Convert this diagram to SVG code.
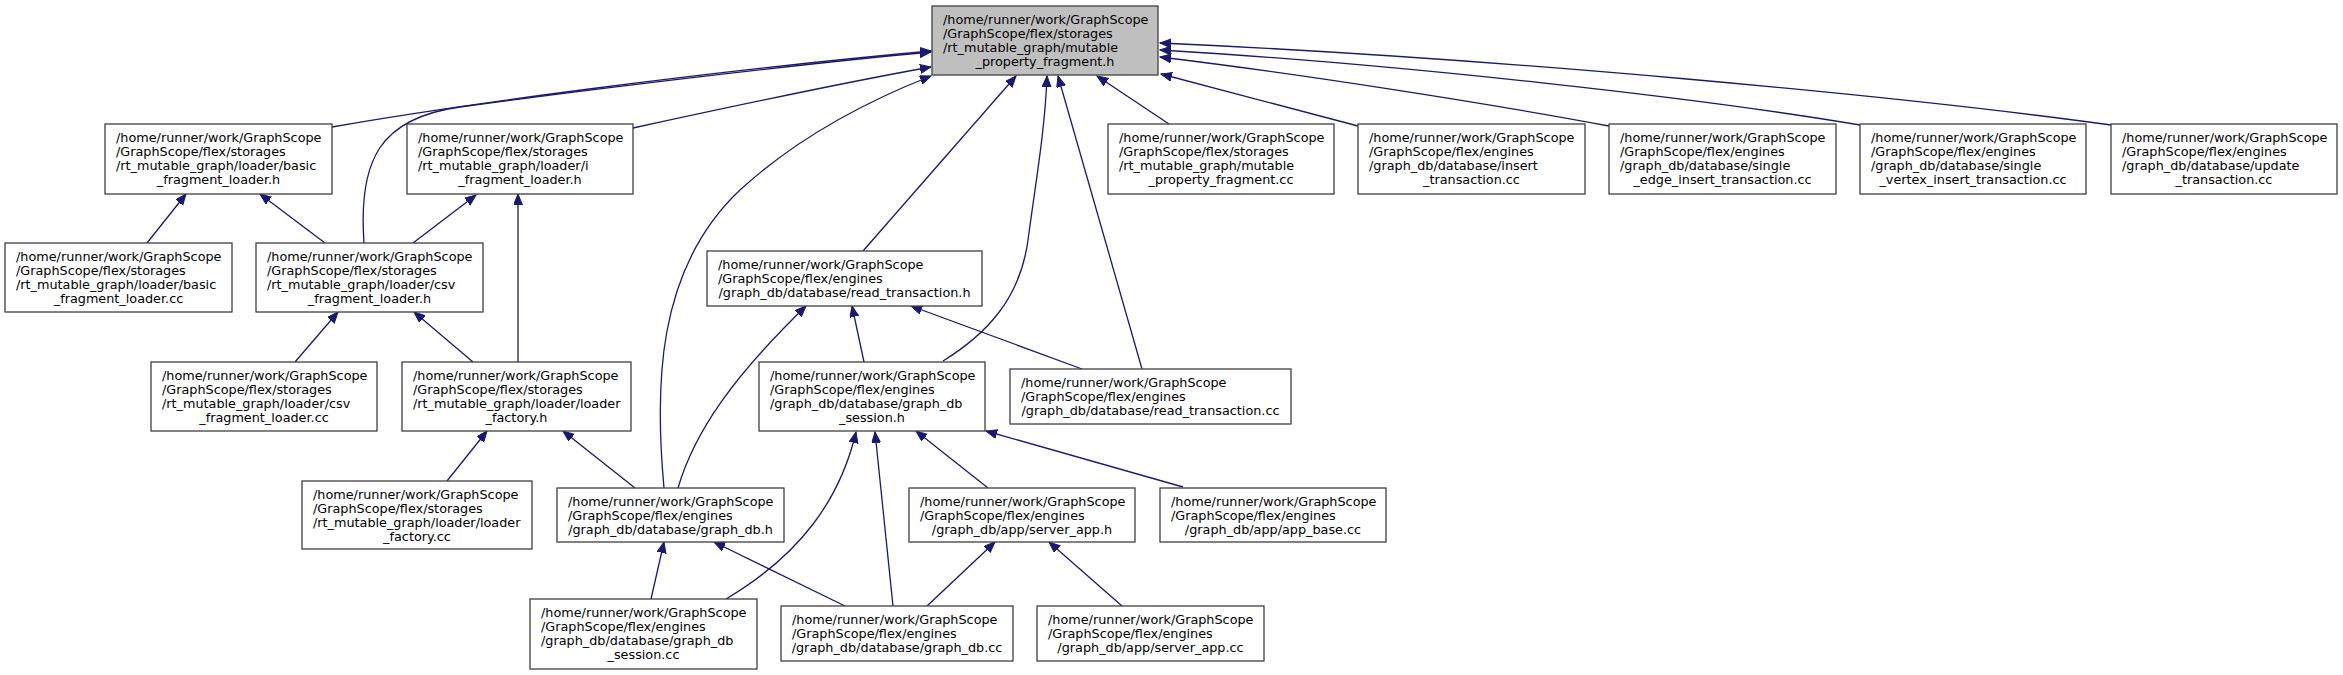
<svg xmlns="http://www.w3.org/2000/svg" width="2343" height="675" viewBox="0 0 2343 675">
<style>
.node rect{fill:#ffffff;stroke:#404040;stroke-width:1.3}
.root rect{fill:#bfbfbf}
text{font-family:"DejaVu Sans","Liberation Sans",sans-serif;font-size:12.8px;fill:#000000}
.c{text-anchor:middle}
.edges path{fill:none;stroke:#191970;stroke-width:1.3;marker-end:url(#ah)}
</style>
<defs>
<marker id="ah" markerWidth="12" markerHeight="10" refX="11" refY="4.5" orient="auto" markerUnits="userSpaceOnUse">
<path d="M0,0 L11,4.5 L0,9 z" fill="#191970" stroke="#191970" stroke-width="1"/>
</marker>
</defs>
<rect width="2343" height="675" fill="#ffffff"/>
<g class="edges">
<path d="M332,127 C450,106 700,72 931,51"/>
<path d="M364,243 C358,160 380,118 460,107 C600,88 800,64 931,52"/>
<path d="M633,128 C720,109 830,85 931,67"/>
<path d="M664,488 C655,390 655,270 740,190 C800,135 870,100 931,76"/>
<path d="M863,251 L1016,76"/>
<path d="M943,361 C985,335 1020,300 1028,240 C1036,180 1045,130 1047,76"/>
<path d="M1142,369 L1058,76"/>
<path d="M1169,124 L1097,76"/>
<path d="M1358,126 L1161,74"/>
<path d="M1609,126 C1480,102 1300,74 1160,57"/>
<path d="M1860,125 C1700,98 1400,64 1160,50"/>
<path d="M2111,125 C1900,96 1500,58 1160,43"/>
<path d="M147,243 L186,194"/>
<path d="M325,243 L260,194"/>
<path d="M413,243 L476,195"/>
<path d="M295,362 L338,312"/>
<path d="M473,362 L414,312"/>
<path d="M518,362 L518,194"/>
<path d="M447,481 L487,431"/>
<path d="M635,488 L563,431"/>
<path d="M678,488 C695,430 735,375 806,306"/>
<path d="M864,362 L852,306"/>
<path d="M1082,369 L911,306"/>
<path d="M651,599 L664,542"/>
<path d="M845,606 L714,542"/>
<path d="M726,599 C800,555 840,500 856,432"/>
<path d="M893,606 L875,432"/>
<path d="M927,606 L995,542"/>
<path d="M1122,606 L1049,542"/>
<path d="M988,488 L916,431"/>
<path d="M1183,487 L986,431"/>
</g>
<g id="node-top" class="node root">
<rect x="932" y="6" width="226" height="69"/>
<text x="943" y="23.5">/home/runner/work/GraphScope</text>
<text x="943" y="37.8">/GraphScope/flex/storages</text>
<text x="943" y="52.1">/rt_mutable_graph/mutable</text>
<text class="c" x="1045" y="66.4">_property_fragment.h</text>
</g>
<g id="node-basic-fragment-loader-h" class="node">
<rect x="105" y="124" width="227" height="70"/>
<text x="116" y="141.5">/home/runner/work/GraphScope</text>
<text x="116" y="155.8">/GraphScope/flex/storages</text>
<text x="116" y="170.1">/rt_mutable_graph/loader/basic</text>
<text class="c" x="218.5" y="184.4">_fragment_loader.h</text>
</g>
<g id="node-i-fragment-loader-h" class="node">
<rect x="407" y="124" width="226" height="70"/>
<text x="418" y="141.5">/home/runner/work/GraphScope</text>
<text x="418" y="155.8">/GraphScope/flex/storages</text>
<text x="418" y="170.1">/rt_mutable_graph/loader/i</text>
<text class="c" x="520" y="184.4">_fragment_loader.h</text>
</g>
<g id="node-mutable-property-fragment-cc" class="node">
<rect x="1108" y="124" width="226" height="70"/>
<text x="1119" y="141.5">/home/runner/work/GraphScope</text>
<text x="1119" y="155.8">/GraphScope/flex/storages</text>
<text x="1119" y="170.1">/rt_mutable_graph/mutable</text>
<text class="c" x="1221" y="184.4">_property_fragment.cc</text>
</g>
<g id="node-insert-transaction-cc" class="node">
<rect x="1358" y="124" width="227" height="70"/>
<text x="1369" y="141.5">/home/runner/work/GraphScope</text>
<text x="1369" y="155.8">/GraphScope/flex/engines</text>
<text x="1369" y="170.1">/graph_db/database/insert</text>
<text class="c" x="1471.5" y="184.4">_transaction.cc</text>
</g>
<g id="node-single-edge-insert-transaction-cc" class="node">
<rect x="1609" y="124" width="227" height="70"/>
<text x="1620" y="141.5">/home/runner/work/GraphScope</text>
<text x="1620" y="155.8">/GraphScope/flex/engines</text>
<text x="1620" y="170.1">/graph_db/database/single</text>
<text class="c" x="1722.5" y="184.4">_edge_insert_transaction.cc</text>
</g>
<g id="node-single-vertex-insert-transaction-cc" class="node">
<rect x="1860" y="124" width="226" height="70"/>
<text x="1871" y="141.5">/home/runner/work/GraphScope</text>
<text x="1871" y="155.8">/GraphScope/flex/engines</text>
<text x="1871" y="170.1">/graph_db/database/single</text>
<text class="c" x="1973" y="184.4">_vertex_insert_transaction.cc</text>
</g>
<g id="node-update-transaction-cc" class="node">
<rect x="2111" y="124" width="226" height="70"/>
<text x="2122" y="141.5">/home/runner/work/GraphScope</text>
<text x="2122" y="155.8">/GraphScope/flex/engines</text>
<text x="2122" y="170.1">/graph_db/database/update</text>
<text class="c" x="2224" y="184.4">_transaction.cc</text>
</g>
<g id="node-basic-fragment-loader-cc" class="node">
<rect x="5" y="243" width="227" height="69"/>
<text x="16" y="260.5">/home/runner/work/GraphScope</text>
<text x="16" y="274.8">/GraphScope/flex/storages</text>
<text x="16" y="289.1">/rt_mutable_graph/loader/basic</text>
<text class="c" x="118.5" y="303.4">_fragment_loader.cc</text>
</g>
<g id="node-csv-fragment-loader-h" class="node">
<rect x="256" y="243" width="227" height="69"/>
<text x="267" y="260.5">/home/runner/work/GraphScope</text>
<text x="267" y="274.8">/GraphScope/flex/storages</text>
<text x="267" y="289.1">/rt_mutable_graph/loader/csv</text>
<text class="c" x="369.5" y="303.4">_fragment_loader.h</text>
</g>
<g id="node-read-transaction-h" class="node">
<rect x="707" y="251" width="275" height="55"/>
<text x="718" y="268.5">/home/runner/work/GraphScope</text>
<text x="718" y="282.8">/GraphScope/flex/engines</text>
<text class="c" x="844.5" y="297.1">/graph_db/database/read_transaction.h</text>
</g>
<g id="node-csv-fragment-loader-cc" class="node">
<rect x="151" y="362" width="226" height="69"/>
<text x="162" y="379.5">/home/runner/work/GraphScope</text>
<text x="162" y="393.8">/GraphScope/flex/storages</text>
<text x="162" y="408.1">/rt_mutable_graph/loader/csv</text>
<text class="c" x="264" y="422.4">_fragment_loader.cc</text>
</g>
<g id="node-loader-factory-h" class="node">
<rect x="402" y="362" width="229" height="69"/>
<text x="413" y="379.5">/home/runner/work/GraphScope</text>
<text x="413" y="393.8">/GraphScope/flex/storages</text>
<text x="413" y="408.1">/rt_mutable_graph/loader/loader</text>
<text class="c" x="516.5" y="422.4">_factory.h</text>
</g>
<g id="node-graph-db-session-h" class="node">
<rect x="759" y="362" width="226" height="69"/>
<text x="770" y="379.5">/home/runner/work/GraphScope</text>
<text x="770" y="393.8">/GraphScope/flex/engines</text>
<text x="770" y="408.1">/graph_db/database/graph_db</text>
<text class="c" x="872" y="422.4">_session.h</text>
</g>
<g id="node-read-transaction-cc" class="node">
<rect x="1010" y="369" width="281" height="55"/>
<text x="1021" y="386.5">/home/runner/work/GraphScope</text>
<text x="1021" y="400.8">/GraphScope/flex/engines</text>
<text class="c" x="1150.5" y="415.1">/graph_db/database/read_transaction.cc</text>
</g>
<g id="node-loader-factory-cc" class="node">
<rect x="302" y="481" width="230" height="68"/>
<text x="313" y="498.5">/home/runner/work/GraphScope</text>
<text x="313" y="512.8">/GraphScope/flex/storages</text>
<text x="313" y="527.1">/rt_mutable_graph/loader/loader</text>
<text class="c" x="417" y="541.4">_factory.cc</text>
</g>
<g id="node-graph-db-h" class="node">
<rect x="557" y="488" width="227" height="54"/>
<text x="568" y="505.5">/home/runner/work/GraphScope</text>
<text x="568" y="519.8">/GraphScope/flex/engines</text>
<text class="c" x="670.5" y="534.1">/graph_db/database/graph_db.h</text>
</g>
<g id="node-server-app-h" class="node">
<rect x="909" y="488" width="226" height="54"/>
<text x="920" y="505.5">/home/runner/work/GraphScope</text>
<text x="920" y="519.8">/GraphScope/flex/engines</text>
<text class="c" x="1022" y="534.1">/graph_db/app/server_app.h</text>
</g>
<g id="node-app-base-cc" class="node">
<rect x="1160" y="488" width="226" height="54"/>
<text x="1171" y="505.5">/home/runner/work/GraphScope</text>
<text x="1171" y="519.8">/GraphScope/flex/engines</text>
<text class="c" x="1273" y="534.1">/graph_db/app/app_base.cc</text>
</g>
<g id="node-graph-db-session-cc" class="node">
<rect x="530" y="599" width="227" height="70"/>
<text x="541" y="616.5">/home/runner/work/GraphScope</text>
<text x="541" y="630.8">/GraphScope/flex/engines</text>
<text x="541" y="645.1">/graph_db/database/graph_db</text>
<text class="c" x="643.5" y="659.4">_session.cc</text>
</g>
<g id="node-graph-db-cc" class="node">
<rect x="781" y="606" width="232" height="55"/>
<text x="792" y="623.5">/home/runner/work/GraphScope</text>
<text x="792" y="637.8">/GraphScope/flex/engines</text>
<text class="c" x="897" y="652.1">/graph_db/database/graph_db.cc</text>
</g>
<g id="node-server-app-cc" class="node">
<rect x="1037" y="606" width="227" height="55"/>
<text x="1048" y="623.5">/home/runner/work/GraphScope</text>
<text x="1048" y="637.8">/GraphScope/flex/engines</text>
<text class="c" x="1150.5" y="652.1">/graph_db/app/server_app.cc</text>
</g>
</svg>
